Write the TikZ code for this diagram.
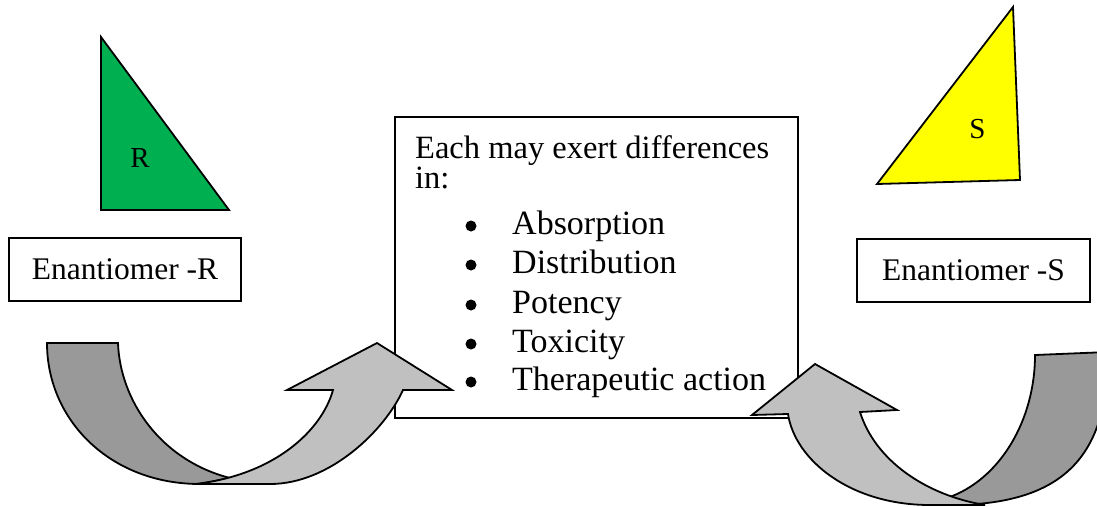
\documentclass[tikz,border=0pt]{standalone}
\usepackage{fontspec}
\setmainfont{Liberation Serif}
\definecolor{rgreen}{HTML}{00B050}
\definecolor{syellow}{HTML}{FFFF00}
\definecolor{darkband}{HTML}{999999}
\definecolor{lightband}{HTML}{C0C0C0}
\begin{document}
\begin{tikzpicture}[x=1pt,y=-1pt,
  framebox/.style={draw, line width=1.8pt, inner sep=0pt, outer sep=0pt, fill=white},
  labeltxt/.style={font=\fontsize{31.5}{36}\selectfont, inner sep=0pt},
  headtxt/.style={font=\fontsize{32.5}{36}\selectfont, inner sep=0pt, anchor=base west},
  itemtxt/.style={font=\fontsize{34}{38}\selectfont, inner sep=0pt, anchor=base west},
  bulletdot/.style={circle, fill=black, inner sep=0pt, minimum size=11pt},
  tritxt/.style={font=\fontsize{29}{34}\selectfont, inner sep=0pt, anchor=base},
  tri/.style={draw, line width=1.8pt, line join=miter},
  band/.style={draw, line width=1.8pt, line join=miter}]
\useasboundingbox (0,0) rectangle (1097,506);

% triangles
\draw[tri, fill=rgreen] (101,37) -- (101,210) -- (229,210) -- cycle;
\node[tritxt] (labR) at (140,167) {R};
\draw[tri, fill=syellow] (1013,7) -- (877,184) -- (1020,180) -- cycle;
\node[tritxt] (labS) at (977.5,138) {S};

% enantiomer boxes
\node[framebox, labeltxt, minimum width=232pt, minimum height=63pt] (boxR) at (125,269.5) {Enantiomer -R};
\node[framebox, labeltxt, minimum width=233pt, minimum height=63pt] (boxS) at (973.5,270.5) {Enantiomer -S};

% central box
\node[framebox, minimum width=403pt, minimum height=301pt, anchor=north west] (main) at (395,117) {};
\node[headtxt] (l1) at (415,158) {Each may exert differences};
\node[headtxt] (l2) at (415,188) {in:};
\foreach \n/\t/\yy in {b1/Absorption/234, b2/Distribution/273, b3/Potency/313, b4/Toxicity/352, b5/Therapeutic action/390}{
  \node[bulletdot] (\n dot) at (471,\yy-8) {};
  \node[itemtxt] (\n) at (512,\yy) {\t};
}

% curved arrows
\begin{scope}
\clip (0,0) rectangle (1097,506);
% left
\draw[band, fill=darkband] (47,343) -- (118,343)
  .. controls (120,400) and (160,460) .. (230,478)
  -- (200,484)
  .. controls (110,484) and (47,420) .. (47,343) -- cycle;
\draw[band, fill=lightband] (195,484)
  .. controls (275,475) and (322,430) .. (333,390)
  -- (287,390) -- (377,343) -- (452,390) -- (403,390)
  .. controls (385,430) and (330,484) .. (270,484) -- cycle;
% right
\draw[band, fill=darkband] (1035,355) -- (1108,352)
  .. controls (1108,450) and (1070,505) .. (950,505)
  -- (940,505) -- (947,498)
  .. controls (1000,480) and (1035,420) .. (1035,355) -- cycle;
\draw[band, fill=lightband] (752,415) -- (788,414)
  .. controls (795,460) and (850,505) .. (930,505)
  -- (985,505)
  .. controls (925,495) and (875,460) .. (860,412)
  -- (897,410) -- (815,364) -- cycle;
\end{scope}
\end{tikzpicture}
\end{document}
